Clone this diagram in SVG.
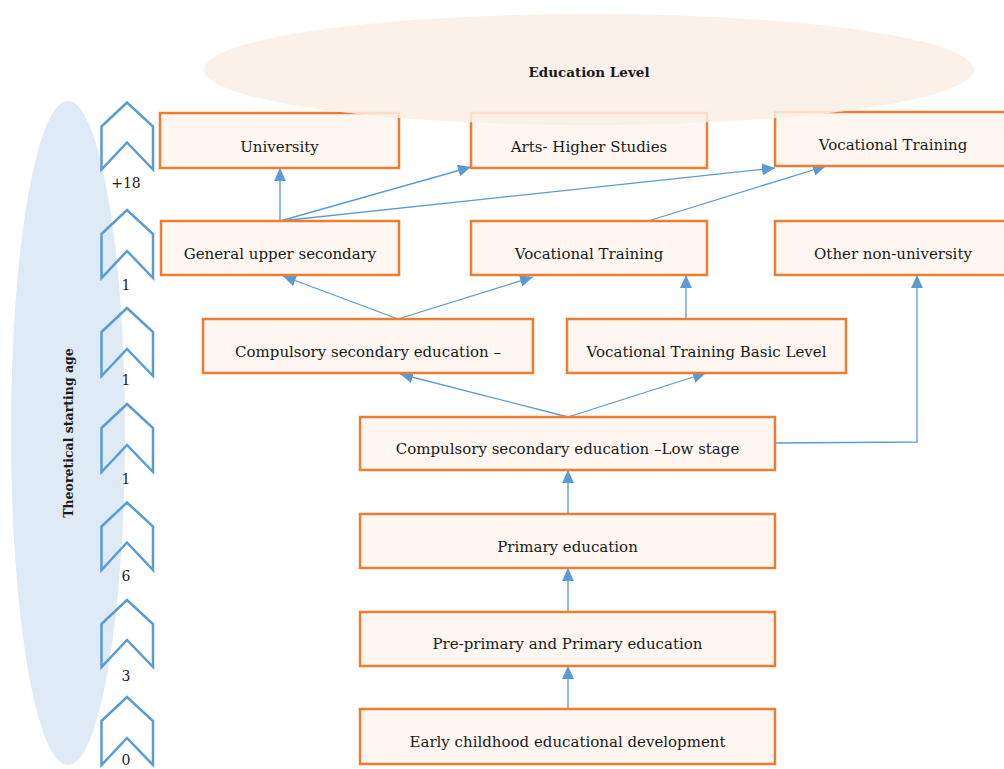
<svg xmlns="http://www.w3.org/2000/svg" width="1004" height="769" viewBox="0 0 1004 769">
<defs>
<style>
.box{fill:#fdf6f1;stroke:#ed7d31;stroke-width:2.5}
.t{font-family:"DejaVu Serif","Liberation Serif",serif;font-size:15px;fill:#1a1a1a;text-anchor:middle}
.num{font-family:"DejaVu Serif","Liberation Serif",serif;font-size:14px;fill:#1a1a1a;text-anchor:middle}
.chev{fill:none;stroke:#5b9bd5;stroke-width:2.5;stroke-linejoin:miter}
.c{fill:none;stroke:#5b9bd5;stroke-width:1.3;marker-end:url(#ah)}
</style>
<marker id="ah" markerUnits="userSpaceOnUse" markerWidth="13" markerHeight="12" refX="13" refY="6" orient="auto">
<path d="M0,0 L13,6 L0,12 Z" fill="#5b9bd5"/>
</marker>
</defs>
<rect width="1004" height="769" fill="#ffffff"/>
<ellipse cx="68" cy="433" rx="57" ry="332" fill="#deeaf6"/>
<text x="73" y="433" transform="rotate(-90 73 433)" font-family="'DejaVu Serif','Liberation Serif',serif" font-weight="bold" font-size="12.5" text-anchor="middle" fill="#1a1a1a">Theoretical starting age</text>
<g id="ages">
<path class="chev" d="M101.5,126.5 L127,102.5 L153,126.5 L153,169.5 L127,142.5 L101.5,169.5 Z"/>
<text class="num" x="126" y="188">+18</text>
<path class="chev" d="M101.5,234 L127,210 L153,234 L153,278 L127,251 L101.5,278 Z"/>
<text class="num" x="126" y="290">1</text>
<path class="chev" d="M101.5,332 L127,308 L153,332 L153,376 L127,349 L101.5,376 Z"/>
<text class="num" x="126" y="385">1</text>
<path class="chev" d="M101.5,428 L127,404 L153,428 L153,472 L127,445 L101.5,472 Z"/>
<text class="num" x="126" y="484">1</text>
<path class="chev" d="M101.5,526.5 L127,502.5 L153,526.5 L153,570 L127,542.5 L101.5,570 Z"/>
<text class="num" x="126" y="581">6</text>
<path class="chev" d="M101.5,624 L127,600 L153,624 L153,667 L127,640 L101.5,667 Z"/>
<text class="num" x="126" y="681">3</text>
<path class="chev" d="M101.5,721 L127,697 L153,721 L153,765 L127,738 L101.5,765 Z"/>
<text class="num" x="126" y="765">0</text>
</g>
<g id="connectors">
<path class="c" d="M280,221 L280,168"/>
<path class="c" d="M280,221 L471,167"/>
<path class="c" d="M280,221 L775,168"/>
<path class="c" d="M648,221 L826,166"/>
<path class="c" d="M398,319 L283,276"/>
<path class="c" d="M398,319 L533,277"/>
<path class="c" d="M686,319 L686,275"/>
<path class="c" d="M568,417 L400,374"/>
<path class="c" d="M568,417 L706,373"/>
<path class="c" d="M775,443 L917,442 L917,275"/>
<path class="c" d="M568,514 L568,470"/>
<path class="c" d="M568,612 L568,568"/>
<path class="c" d="M568,709 L568,666"/>
</g>
<g id="n-university"><rect class="box" x="160" y="113" width="239" height="55"/><text class="t" x="279.5" y="152">University</text></g>
<g id="n-arts"><rect class="box" x="471" y="113" width="236" height="55"/><text class="t" x="589" y="152">Arts- Higher Studies</text></g>
<g id="n-voc-top"><rect class="box" x="775" y="112" width="240" height="54"/><text class="t" x="893" y="150">Vocational Training</text></g>
<g id="n-general"><rect class="box" x="161" y="221" width="238" height="54"/><text class="t" x="280" y="259">General upper secondary</text></g>
<g id="n-voc-mid"><rect class="box" x="471" y="221" width="236" height="54"/><text class="t" x="589" y="259">Vocational Training</text></g>
<g id="n-other"><rect class="box" x="775" y="221" width="240" height="54"/><text class="t" x="893" y="259">Other non-university</text></g>
<g id="n-comp-sec"><rect class="box" x="203" y="319" width="330" height="54"/><text class="t" x="368" y="357">Compulsory secondary education –</text></g>
<g id="n-voc-basic"><rect class="box" x="567" y="319" width="279" height="54"/><text class="t" x="706.5" y="357">Vocational Training Basic Level</text></g>
<g id="n-comp-low"><rect class="box" x="360" y="417" width="415" height="53"/><text class="t" x="567.5" y="454">Compulsory secondary education –Low stage</text></g>
<g id="n-primary"><rect class="box" x="360" y="514" width="415" height="54"/><text class="t" x="567.5" y="552">Primary education</text></g>
<g id="n-preprimary"><rect class="box" x="360" y="612" width="415" height="54"/><text class="t" x="567.5" y="649">Pre-primary and Primary education</text></g>
<g id="n-early"><rect class="box" x="360" y="709" width="415" height="55"/><text class="t" x="567.5" y="747">Early childhood educational development</text></g>
<ellipse cx="589" cy="69.5" rx="385" ry="55.5" fill="#fbeee4" fill-opacity="0.85"/>
<text x="589" y="77" font-family="'DejaVu Serif','Liberation Serif',serif" font-weight="bold" font-size="13.5" text-anchor="middle" fill="#1a1a1a">Education Level</text>
</svg>
